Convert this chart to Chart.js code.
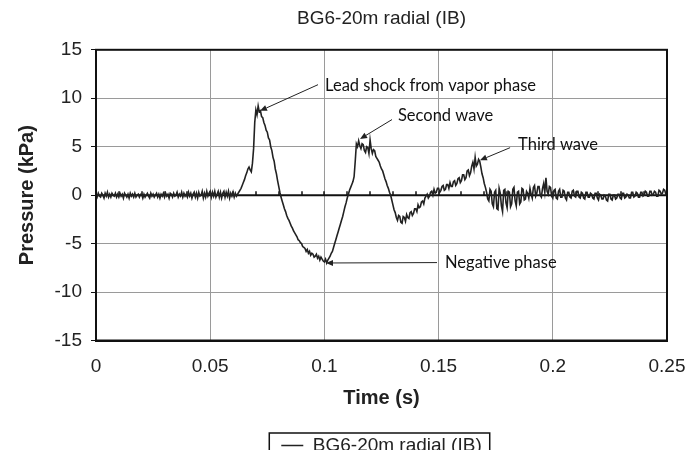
<!DOCTYPE html>
<html>
<head>
<meta charset="utf-8">
<script src="https://cdn.jsdelivr.net/npm/chart.js@4/dist/chart.umd.min.js"></script>
<style>
  html, body { margin: 0; padding: 0; background: #fff; }
  #wrap { width: 687px; height: 450px; }
</style>
</head>
<body>
<div id="wrap"><canvas id="pressureChart"></canvas></div>
<script>
// gauge record, one reading every half millisecond
var seriesName = 'BG6-20m radial (IB)';
var sampleStart = 0;
var sampleStep = 0.0005;
var pressure = [
    0.1, -0.2, 0.2, -0.1, -0.2, 0.2, 0.0, -0.3, 0.2, -0.1, 0.3, -0.2, 0.1, -0.2, 0.2, 0.0, -0.1, 0.2, -0.2, 0.1,
    -0.2, 0.2, -0.1, 0.1, -0.3, 0.2, 0.0, -0.2, 0.1, -0.3, 0.2, -0.1, 0.1, -0.2, 0.2, -0.2, 0.0, 0.1, -0.2, 0.1,
    0.1, -0.3, 0.1, -0.2, 0.0, 0.2, -0.1, -0.3, 0.2, -0.1, 0.1, -0.2, 0.0, 0.2, -0.2, 0.1, -0.3, 0.1, -0.1, 0.2,
    -0.2, 0.2, -0.1, 0.1, -0.3, 0.2, 0.1, -0.2, 0.2, -0.1, 0.0, 0.3, -0.2, 0.1, -0.1, 0.3, -0.2, 0.2, -0.1, 0.1,
    -0.2, 0.3, -0.1, 0.2, -0.3, 0.1, 0.3, -0.2, 0.2, -0.3, 0.3, -0.1, 0.0, 0.4, -0.3, 0.2, -0.2, 0.4, -0.1, 0.2,
    0.4, -0.2, 0.3, -0.1, 0.4, -0.2, 0.1, 0.4, -0.2, 0.3, -0.3, 0.2, 0.4, -0.2, 0.3, -0.1, 0.4, -0.3, 0.2, -0.1,
    0.3, -0.2, 0.2, -0.1, 0.1, 0.3, 0.5, 0.7, 1.0, 1.3, 1.6, 2.0, 2.3, 2.7, 2.9, 2.6, 2.4, 3.3, 4.8, 7.5,
    8.8, 8.3, 9.2, 8.6, 8.7, 8.1, 8.0, 7.5, 7.2, 6.7, 6.5, 5.9, 5.7, 5.0, 4.6, 3.9, 3.5, 2.7, 2.2, 1.5,
    0.9, 0.3, -0.2, -0.6, -1.0, -1.4, -1.7, -2.1, -2.4, -2.6, -2.9, -3.2, -3.4, -3.7, -3.9, -4.1, -4.3, -4.6, -4.7, -4.9,
    -5.0, -5.3, -5.4, -5.5, -5.8, -5.6, -6.0, -5.8, -6.2, -6.0, -6.1, -6.4, -6.3, -6.1, -6.5, -6.3, -6.7, -6.4, -6.6, -6.8,
    -6.9, -6.6, -7.0, -6.7, -6.5, -6.3, -6.0, -5.8, -5.4, -5.0, -4.6, -4.2, -3.8, -3.4, -3.0, -2.6, -2.2, -1.7, -1.2, -0.8,
    -0.3, 0.1, 0.5, 0.8, 1.1, 1.4, 1.9, 3.5, 5.3, 5.0, 5.6, 5.1, 4.8, 5.3, 5.2, 4.6, 4.4, 5.0, 4.9, 4.3,
    5.7, 4.8, 4.3, 4.7, 4.6, 4.0, 3.8, 3.6, 3.4, 3.0, 2.7, 2.5, 2.1, 1.7, 1.4, 1.0, 0.7, 0.3, 0.0, -0.5,
    -1.0, -1.5, -1.8, -2.3, -2.6, -2.1, -2.2, -2.8, -2.9, -2.2, -2.3, -2.7, -2.0, -2.3, -2.4, -1.8, -1.7, -2.1, -1.9, -1.4,
    -1.4, -1.7, -1.0, -1.3, -1.2, -0.7, -0.6, -0.9, -0.3, -0.1, 0.1, -0.3, -0.1, 0.3, 0.4, 0.0, 0.6, 0.2, 0.3, 0.7,
    0.7, 0.3, 0.5, 0.9, 1.0, 0.5, 0.6, 1.1, 1.1, 0.7, 1.3, 0.9, 0.9, 1.4, 1.5, 1.0, 1.2, 1.7, 1.8, 1.3,
    1.5, 2.1, 2.1, 1.6, 1.8, 2.5, 2.6, 2.0, 2.3, 3.0, 3.4, 2.7, 3.9, 3.0, 3.2, 3.7, 3.5, 2.9, 2.2, 1.8,
    1.2, 0.8, 0.3, -0.4, -0.6, 0.6, 0.4, -0.9, -1.2, 0.3, 0.5, -1.4, -1.5, 0.7, 0.2, -1.1, -1.7, 0.5, 0.6, -0.8,
    -1.3, 0.4, 0.3, -1.2, -0.9, 0.6, 0.8, -0.6, -1.1, 0.3, 0.4, -0.9, -0.7, 0.7, 0.6, -0.5, -0.4, 0.4, 0.2, -0.3,
    0.7, 0.1, -0.3, 0.8, 1.0, -0.1, 0.2, 0.9, 0.9, 0.0, -0.2, 0.7, 1.2, 0.3, 1.8, 0.4, 0.1, 0.9, 0.8, -0.1,
    -0.3, 0.5, 0.6, -0.3, -0.4, 0.4, 0.6, -0.2, -0.2, 0.5, 0.4, -0.3, -0.5, 0.3, 0.3, -0.2, -0.3, 0.4, 0.5, -0.1,
    -0.2, 0.4, 0.4, -0.2, -0.3, 0.3, 0.2, -0.3, -0.4, 0.3, 0.3, -0.2, -0.2, 0.2, 0.1, -0.3, -0.4, 0.2, 0.2, -0.3,
    -0.5, 0.1, 0.0, -0.4, -0.4, 0.0, -0.1, -0.5, -0.6, 0.1, 0.1, -0.4, -0.5, 0.0, 0.0, -0.4, -0.3, 0.1, 0.1, -0.3,
    -0.4, 0.2, 0.2, -0.3, -0.2, 0.1, 0.0, -0.3, -0.3, 0.3, 0.3, -0.2, -0.1, 0.3, 0.2, -0.2, -0.2, 0.3, 0.3, -0.1,
    0.0, 0.4, 0.3, -0.1, -0.1, 0.4, 0.4, 0.0, 0.1, 0.4, 0.3, -0.1, -0.1, 0.5, 0.4, 0.1, 0.2, 0.6, 0.5, 0.1,
    0.3
];
var xTicks = [0, 0.05, 0.1, 0.15, 0.2, 0.25];
var yTicks = [-15, -10, -5, 0, 5, 10, 15];
var minorStep = 0.01;

// callouts: text, where the text starts, arrow tail, arrow tip (data units)
var noteText = ['Lead shock from vapor phase', 'Second wave', 'Third wave', 'Negative phase'];
var noteAt   = [[0.1003, 11.3], [0.1322, 8.2], [0.1848, 5.2], [0.1528, -6.96]];
var noteTail = [[0.0972, 11.4], [0.1296, 7.8], [0.1813, 4.9], [0.1493, -6.96]];
var noteTip  = [[0.0718, 8.7], [0.1156, 5.8], [0.1681, 3.6], [0.1007, -7.0]];

var points = pressure.map(function (p, i) {
    return { x: sampleStart + i * sampleStep, y: p };
});

Chart.defaults.font.family = "'Liberation Sans', Arial, sans-serif";
Chart.defaults.color = '#222';

function arrow(ctx, x1, y1, x2, y2) {
    var ang = Math.atan2(y2 - y1, x2 - x1);
    var len = 7, half = 3;
    var bx = x2 - len * Math.cos(ang), by = y2 - len * Math.sin(ang);
    ctx.beginPath();
    ctx.moveTo(x1, y1);
    ctx.lineTo(bx, by);
    ctx.stroke();
    ctx.beginPath();
    ctx.moveTo(x2, y2);
    ctx.lineTo(bx + half * Math.sin(ang), by - half * Math.cos(ang));
    ctx.lineTo(bx - half * Math.sin(ang), by + half * Math.cos(ang));
    ctx.closePath();
    ctx.fill();
}

var extras = {
    id: 'extras',
    afterLayout: function (chart) {
        // push legend down to where the original sits
        chart.legend.top += 20;
        chart.legend.bottom += 20;
    },
    beforeDatasetsDraw: function (chart) {
        var ctx = chart.ctx, a = chart.chartArea, x = chart.scales.x, y = chart.scales.y;
        var y0 = y.getPixelForValue(0);
        ctx.save();
        ctx.strokeStyle = '#111';
        ctx.lineWidth = 2;
        ctx.beginPath();
        ctx.moveTo(a.left, y0);
        ctx.lineTo(a.right, y0);
        ctx.stroke();
        ctx.lineWidth = 1.5;
        ctx.beginPath();
        for (var t = minorStep; t < x.max - 1e-9; t += minorStep) {
            var px = Math.round(x.getPixelForValue(t));
            ctx.moveTo(px, y0);
            ctx.lineTo(px, y0 - 4);
        }
        ctx.stroke();
        ctx.restore();
    },
    afterDraw: function (chart) {
        var ctx = chart.ctx, a = chart.chartArea, x = chart.scales.x, y = chart.scales.y;
        ctx.save();
        ctx.strokeStyle = '#111';
        ctx.lineWidth = 2;
        ctx.strokeRect(a.left, a.top, a.right - a.left, a.bottom - a.top);

        ctx.strokeStyle = '#222';
        ctx.fillStyle = '#222';
        ctx.lineWidth = 1;
        for (var i = 0; i < noteText.length; i++) {
            arrow(ctx, x.getPixelForValue(noteTail[i][0]), y.getPixelForValue(noteTail[i][1]),
                x.getPixelForValue(noteTip[i][0]), y.getPixelForValue(noteTip[i][1]));
        }
        ctx.fillStyle = '#111';
        ctx.font = "16.5px Lato, 'Open Sans', sans-serif";
        ctx.textAlign = 'left';
        ctx.textBaseline = 'middle';
        for (var j = 0; j < noteText.length; j++) {
            ctx.fillText(noteText[j], x.getPixelForValue(noteAt[j][0]), y.getPixelForValue(noteAt[j][1]));
        }

        var hb = chart.legend.legendHitBoxes[0];
        if (hb) {
            ctx.strokeStyle = '#111';
            ctx.lineWidth = 1.5;
            ctx.strokeRect(hb.left - 12, hb.top - 3, hb.width + 20, 40);
        }
        ctx.restore();
    }
};

new Chart(document.getElementById('pressureChart'), {
    type: 'line',
    data: {
        datasets: [{
            label: seriesName,
            data: points,
            borderColor: '#222',
            backgroundColor: '#222',
            borderWidth: 1.6,
            pointRadius: 0,
            pointStyle: 'line',
            tension: 0
        }]
    },
    options: {
        responsive: true,
        maintainAspectRatio: false,
        animation: false,
        layout: { padding: { left: 0, right: 20, top: 0, bottom: 5 } },
        plugins: {
            title: {
                display: true,
                fullSize: false,
                text: seriesName,
                color: '#222',
                font: { size: 19, weight: 'normal' },
                padding: { top: 7, bottom: 20 }
            },
            legend: {
                position: 'bottom',
                fullSize: false,
                labels: {
                    usePointStyle: true,
                    pointStyleWidth: 22,
                    padding: 5.5,
                    color: '#222',
                    font: { size: 19 }
                }
            },
            tooltip: { enabled: false }
        },
        scales: {
            x: {
                type: 'linear',
                min: 0,
                max: 0.25,
                afterFit: function (s) { s.height = 70; s.paddingLeft = 0; s.paddingRight = 0; },
                afterBuildTicks: function (s) { s.ticks = xTicks.map(function (v) { return { value: v }; }); },
                ticks: {
                    padding: 15,
                    font: { size: 19 },
                    color: '#222',
                    maxRotation: 0,
                    callback: function (v) { return String(+v.toFixed(2)); }
                },
                grid: { color: '#9a9a9a', lineWidth: 1, drawTicks: false },
                border: { display: true, color: '#111', width: 2 },
                title: {
                    display: true,
                    text: 'Time (s)',
                    color: '#222',
                    font: { size: 20, weight: 'bold' },
                    padding: { top: 0, bottom: 0 }
                }
            },
            y: {
                min: -15,
                max: 15,
                afterFit: function (s) { s.width = 96; },
                afterBuildTicks: function (s) { s.ticks = yTicks.map(function (v) { return { value: v }; }); },
                ticks: {
                    padding: 9,
                    font: { size: 19 },
                    color: '#222'
                },
                grid: { color: '#9a9a9a', lineWidth: 1, tickLength: 5, tickColor: '#111' },
                border: { display: true, color: '#111', width: 2 },
                title: {
                    display: true,
                    text: 'Pressure (kPa)',
                    color: '#222',
                    font: { size: 20, weight: 'bold' },
                    padding: { top: 15, bottom: 0 }
                }
            }
        }
    },
    plugins: [extras]
});
</script>
</body>
</html>
